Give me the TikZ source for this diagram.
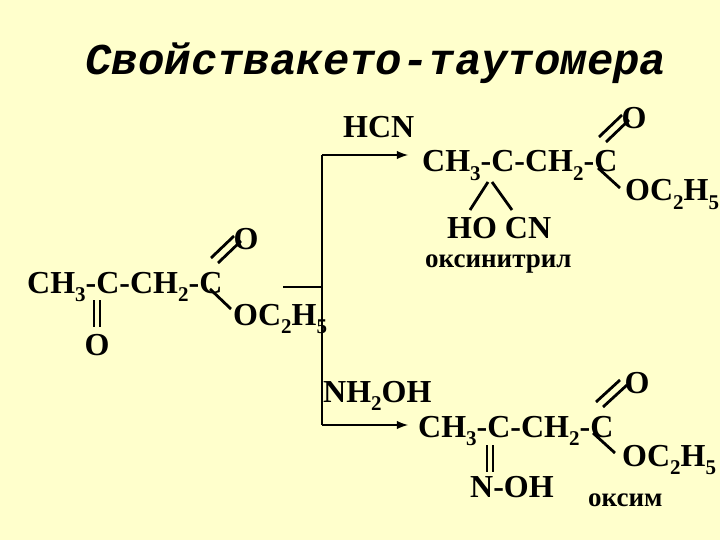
\documentclass[tikz,border=0pt]{standalone}
\usepackage{fontspec}
\setmainfont{Liberation Serif}
\newfontfamily\titlefont{Liberation Mono}
\definecolor{bg}{HTML}{FFFFCC}
\newcommand{\sbs}[1]{\raisebox{-0.28em}{\fontsize{21}{21}\selectfont #1}}
\tikzset{chem/.style={inner sep=0pt,anchor=base west,font=\fontsize{32}{36}\selectfont\bfseries},
 lbl/.style={inner sep=0pt,anchor=base west,font=\fontsize{27}{30}\selectfont\bfseries},
 bond/.style={line width=2.8pt},
 conn/.style={line width=2.8pt}}
\begin{document}
\begin{tikzpicture}[x=1pt,y=-1pt]
\fill[bg] (0,0) rectangle (720,540);
\useasboundingbox (0,0) rectangle (720,540);
\node[inner sep=0pt,anchor=base] (title) at (376,75) {\titlefont\fontsize{44}{48}\selectfont\bfseries\itshape Свойствакето-таутомера};
% reactant
\node[chem] (r) at (27,293) {CH\sbs{3}-C-CH\sbs{2}-C};
\node[chem,anchor=center] (rO) at (246,239) {O};
\node[chem] (rOE) at (233,325) {OC\sbs{2}H\sbs{5}};
\node[chem,anchor=center] (rO2) at (97,345) {O};
\draw[bond] (211,258) -- (234,236) (218,263) -- (241,241);
\draw[bond] (210,289) -- (231,309);
\draw[bond] (94,300) -- (94,327) (100,300) -- (100,327);
% connectors
\coordinate (j) at (322,287);
\coordinate (t) at (322,155);
\coordinate (b) at (322,425);
\coordinate (te) at (408,155);
\coordinate (be) at (408,425);
\draw[conn] (283,287) -- (j);
\draw[conn] (t) -- (b);
\draw[conn,-latex] (t) -- (te);
\draw[conn,-latex] (b) -- (be);
\node[chem] (hcn) at (343,138) {HCN};
\node[chem] (nh) at (323,402) {NH\sbs{2}OH};
% top product
\node[chem] (p1) at (422,172) {CH\sbs{3}-C-CH\sbs{2}-C};
\node[chem,anchor=center] (p1O) at (634,118) {O};
\node[chem] (p1E) at (625,201) {OC\sbs{2}H\sbs{5}};
\draw[bond] (599,137) -- (622,115) (606,142) -- (629,120);
\draw[bond] (598,168) -- (620,188);
\node[chem] (hocn) at (447,239) {HO CN};
\draw[bond] (488,182) -- (470,210) (492,182) -- (512,210);
\node[lbl] (l1) at (425,267) {оксинитрил};
% bottom product
\node[chem] (p2) at (418,437) {CH\sbs{3}-C-CH\sbs{2}-C};
\node[chem,anchor=center] (p2O) at (637,383) {O};
\node[chem] (p2E) at (622,466) {OC\sbs{2}H\sbs{5}};
\draw[bond] (596,402) -- (620,380) (603,407) -- (627,385);
\draw[bond] (593,433) -- (615,453);
\draw[bond] (487,445) -- (487,472) (493,445) -- (493,472);
\node[chem] (noh) at (470,497) {N-OH};
\node[lbl] (l2) at (588,506) {оксим};
\end{tikzpicture}
\end{document}
